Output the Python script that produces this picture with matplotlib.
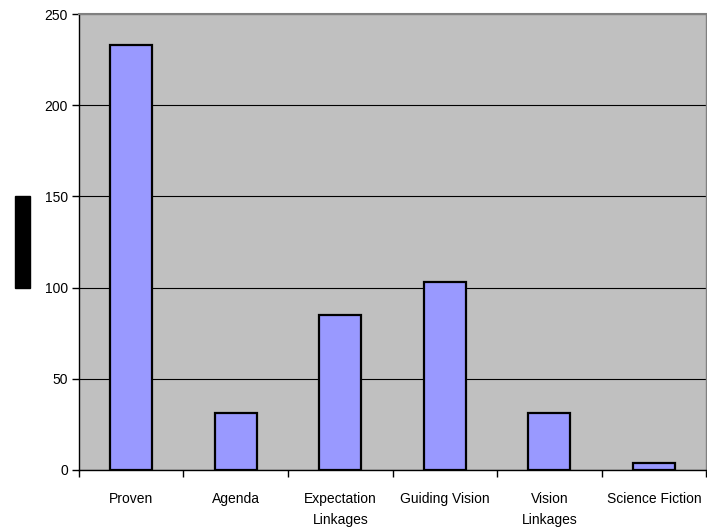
import numpy as np
import matplotlib.pyplot as plt
from matplotlib.patches import Rectangle

# category labels and counts
categories = ['Proven', 'Agenda', 'Expectation\nLinkages', 'Guiding Vision',
              'Vision\nLinkages', 'Science Fiction']
counts = [233, 31, 85, 103, 31, 4]

plt.rcParams['font.family'] = ['Liberation Sans', 'DejaVu Sans']
plt.rcParams['font.size'] = 10

fig = plt.figure(figsize=(7.07, 5.31), dpi=100)
ax = fig.add_axes([0.1117, 0.1149, 0.887, 0.8587])
ax.set_facecolor('#c0c0c0')

x = np.arange(len(categories))
ax.bar(x, counts, width=0.4, color='#9999ff', edgecolor='black', linewidth=1.6, zorder=3)

ax.set_xlim(-0.5, len(categories) - 0.5)
ax.set_ylim(0, 250)
ax.set_yticks(np.arange(0, 251, 50))
ax.yaxis.grid(True, color='black', linewidth=0.8, zorder=1)
ax.set_axisbelow(True)

# labels sit at bar centres, tick marks at the category boundaries
ax.set_xticks(x)
ax.set_xticklabels(categories, linespacing=1.6)
ax.set_xticks(np.arange(-0.5, len(categories)), minor=True)
ax.tick_params(axis='x', which='major', length=0, pad=16)
ax.tick_params(axis='x', which='minor', length=5, width=1, color='black')
ax.tick_params(axis='y', length=5, width=1, pad=3)

for side in ['left', 'bottom']:
    ax.spines[side].set_color('black')
    ax.spines[side].set_linewidth(1)
ax.spines['top'].set_color('#808080')
ax.spines['top'].set_linewidth(1.5)
ax.spines['right'].set_color('#808080')
ax.spines['right'].set_linewidth(1)

# blacked-out axis title
fig.patches.append(Rectangle((15 / 707, 1 - 288 / 531), 15 / 707, 92 / 531,
                             transform=fig.transFigure, color='black'))

plt.savefig('out.png', dpi=100)
